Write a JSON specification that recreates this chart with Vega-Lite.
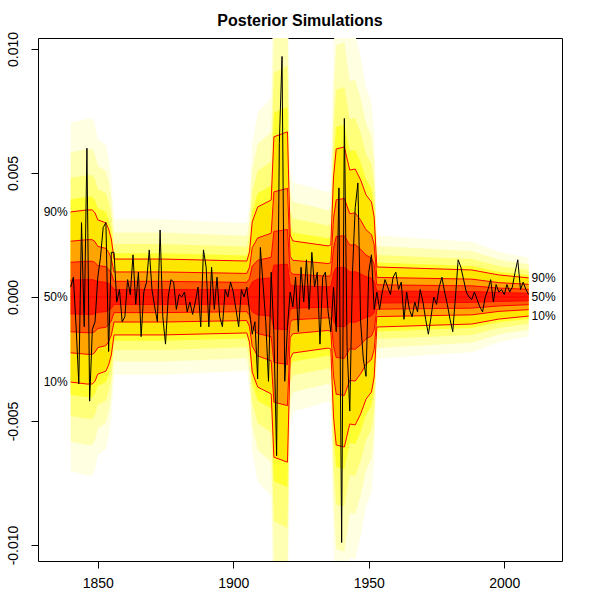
{
"$schema": "https://vega.github.io/schema/vega-lite/v6.json",
"width": 524, "height": 523,
"autosize": {"type": "none"},
"padding": {"left": 38, "top": 38, "right": 38, "bottom": 39},
"background": "white",
"title": {"text": "Posterior Simulations", "font": "Liberation Sans", "fontSize": 16, "fontWeight": "bold", "color": "#000", "anchor": "middle", "frame": "group", "baseline": "alphabetic", "offset": -11},
"config": {
  "view": {"stroke": "#000", "strokeWidth": 1},
  "axis": {"domain": false, "grid": false, "tickColor": "#000", "tickSize": 7, "tickWidth": 1, "labelColor": "#000", "labelFont": "Liberation Sans", "labelFontSize": 14}
},
"datasets": {
"fan": [
{"year":1840,"m":0,"u60":0.00068,"u70":0.0014,"u80":0.00225,"u90":0.00343,"o1":0.00394,"o2":0.0048,"o3":0.00583,"o4":0.00703,"l60":-0.00068,"l70":-0.0014,"l80":-0.00225,"l90":-0.00343,"k1":-0.00394,"k2":-0.0048,"k3":-0.00583,"k4":-0.00703},
{"year":1846,"m":0,"u60":0.0007,"u70":0.00144,"u80":0.00231,"u90":0.00351,"o1":0.00404,"o2":0.00491,"o3":0.00597,"o4":0.0072,"l60":-0.0007,"l70":-0.00144,"l80":-0.00231,"l90":-0.00351,"k1":-0.00404,"k2":-0.00491,"k3":-0.00597,"k4":-0.0072},
{"year":1848,"m":0,"u60":0.0007,"u70":0.00144,"u80":0.00231,"u90":0.00351,"o1":0.00404,"o2":0.00491,"o3":0.00597,"o4":0.0072,"l60":-0.0007,"l70":-0.00144,"l80":-0.00231,"l90":-0.00351,"k1":-0.00404,"k2":-0.00491,"k3":-0.00597,"k4":-0.0072},
{"year":1849,"m":0,"u60":0.00067,"u70":0.00139,"u80":0.00223,"u90":0.00339,"o1":0.0039,"o2":0.00475,"o3":0.00576,"o4":0.00695,"l60":-0.00067,"l70":-0.00139,"l80":-0.00223,"l90":-0.00339,"k1":-0.0039,"k2":-0.00475,"k3":-0.00576,"k4":-0.00695},
{"year":1850,"m":0,"u60":0.00062,"u70":0.00127,"u80":0.00204,"u90":0.00311,"o1":0.00358,"o2":0.00435,"o3":0.00529,"o4":0.00638,"l60":-0.00062,"l70":-0.00127,"l80":-0.00204,"l90":-0.00311,"k1":-0.00358,"k2":-0.00435,"k3":-0.00529,"k4":-0.00638},
{"year":1853,"m":0,"u60":0.00059,"u70":0.00122,"u80":0.00196,"u90":0.00299,"o1":0.00344,"o2":0.00419,"o3":0.00508,"o4":0.00613,"l60":-0.00059,"l70":-0.00122,"l80":-0.00196,"l90":-0.00299,"k1":-0.00344,"k2":-0.00419,"k3":-0.00508,"k4":-0.00613},
{"year":1854,"m":0,"u60":0.00054,"u70":0.00112,"u80":0.0018,"u90":0.00274,"o1":0.00315,"o2":0.00384,"o3":0.00466,"o4":0.00562,"l60":-0.00054,"l70":-0.00112,"l80":-0.0018,"l90":-0.00274,"k1":-0.00315,"k2":-0.00384,"k3":-0.00466,"k4":-0.00562},
{"year":1855,"m":0,"u60":0.00046,"u70":0.00096,"u80":0.00154,"u90":0.00234,"o1":0.00269,"o2":0.00328,"o3":0.00398,"o4":0.0048,"l60":-0.00046,"l70":-0.00096,"l80":-0.00154,"l90":-0.00234,"k1":-0.00269,"k2":-0.00328,"k3":-0.00398,"k4":-0.0048},
{"year":1856,"m":0,"u60":0.0003,"u70":0.00063,"u80":0.00101,"u90":0.00153,"o1":0.00176,"o2":0.00214,"o3":0.0026,"o4":0.00314,"l60":-0.0003,"l70":-0.00063,"l80":-0.00101,"l90":-0.00153,"k1":-0.00176,"k2":-0.00214,"k3":-0.0026,"k4":-0.00314},
{"year":1874,"m":0,"u60":0.0003,"u70":0.00063,"u80":0.00101,"u90":0.00153,"o1":0.00176,"o2":0.00214,"o3":0.0026,"o4":0.00314,"l60":-0.0003,"l70":-0.00063,"l80":-0.00101,"l90":-0.00153,"k1":-0.00176,"k2":-0.00214,"k3":-0.0026,"k4":-0.00314},
{"year":1905,"m":0,"u60":0.00029,"u70":0.00059,"u80":0.00095,"u90":0.00145,"o1":0.00167,"o2":0.00203,"o3":0.00247,"o4":0.00297,"l60":-0.00029,"l70":-0.00059,"l80":-0.00095,"l90":-0.00145,"k1":-0.00167,"k2":-0.00203,"k3":-0.00247,"k4":-0.00297},
{"year":1906,"m":0,"u60":0.00036,"u70":0.00074,"u80":0.0012,"u90":0.00182,"o1":0.00209,"o2":0.00255,"o3":0.00309,"o4":0.00373,"l60":-0.00036,"l70":-0.00074,"l80":-0.0012,"l90":-0.00182,"k1":-0.00209,"k2":-0.00255,"k3":-0.00309,"k4":-0.00373},
{"year":1907,"m":0,"u60":0.0006,"u70":0.00124,"u80":0.00199,"u90":0.00303,"o1":0.00348,"o2":0.00424,"o3":0.00515,"o4":0.00621,"l60":-0.0006,"l70":-0.00124,"l80":-0.00199,"l90":-0.00303,"k1":-0.00348,"k2":-0.00424,"k3":-0.00515,"k4":-0.00621},
{"year":1909,"m":0,"u60":0.00072,"u70":0.00148,"u80":0.00238,"u90":0.00363,"o1":0.00417,"o2":0.00508,"o3":0.00617,"o4":0.00744,"l60":-0.00072,"l70":-0.00148,"l80":-0.00238,"l90":-0.00363,"k1":-0.00417,"k2":-0.00508,"k3":-0.00617,"k4":-0.00744},
{"year":1914,"m":0,"u60":0.00077,"u70":0.0016,"u80":0.00257,"u90":0.00391,"o1":0.0045,"o2":0.00547,"o3":0.00665,"o4":0.00802,"l60":-0.00077,"l70":-0.0016,"l80":-0.00257,"l90":-0.00391,"k1":-0.0045,"k2":-0.00547,"k3":-0.00665,"k4":-0.00802},
{"year":1915,"m":0,"u60":0.00128,"u70":0.00264,"u80":0.00424,"u90":0.00646,"o1":0.00743,"o2":0.00904,"o3":0.01098,"o4":0.01324,"l60":-0.00128,"l70":-0.00264,"l80":-0.00424,"l90":-0.00646,"k1":-0.00743,"k2":-0.00904,"k3":-0.01098,"k4":-0.01324},
{"year":1920,"m":0,"u60":0.00132,"u70":0.00272,"u80":0.00438,"u90":0.00666,"o1":0.00766,"o2":0.00932,"o3":0.01132,"o4":0.01365,"l60":-0.00132,"l70":-0.00272,"l80":-0.00438,"l90":-0.00666,"k1":-0.00766,"k2":-0.00932,"k3":-0.01132,"k4":-0.01365},
{"year":1921,"m":0,"u60":0.0005,"u70":0.00102,"u80":0.00164,"u90":0.0025,"o1":0.00288,"o2":0.0035,"o3":0.00425,"o4":0.00513,"l60":-0.0005,"l70":-0.00102,"l80":-0.00164,"l90":-0.0025,"k1":-0.00288,"k2":-0.0035,"k3":-0.00425,"k4":-0.00513},
{"year":1922,"m":0,"u60":0.00045,"u70":0.00092,"u80":0.00148,"u90":0.00226,"o1":0.0026,"o2":0.00316,"o3":0.00384,"o4":0.00463,"l60":-0.00045,"l70":-0.00092,"l80":-0.00148,"l90":-0.00226,"k1":-0.0026,"k2":-0.00316,"k3":-0.00384,"k4":-0.00463},
{"year":1935,"m":0,"u60":0.00041,"u70":0.00084,"u80":0.00135,"u90":0.00206,"o1":0.00237,"o2":0.00288,"o3":0.0035,"o4":0.00422,"l60":-0.00041,"l70":-0.00084,"l80":-0.00135,"l90":-0.00206,"k1":-0.00237,"k2":-0.00288,"k3":-0.0035,"k4":-0.00422},
{"year":1936,"m":0,"u60":0.00042,"u70":0.00086,"u80":0.00138,"u90":0.0021,"o1":0.00241,"o2":0.00294,"o3":0.00357,"o4":0.0043,"l60":-0.00042,"l70":-0.00086,"l80":-0.00138,"l90":-0.0021,"k1":-0.00241,"k2":-0.00294,"k3":-0.00357,"k4":-0.0043},
{"year":1937,"m":0,"u60":0.00096,"u70":0.00198,"u80":0.00318,"u90":0.00484,"o1":0.00557,"o2":0.00678,"o3":0.00823,"o4":0.00992,"l60":-0.00096,"l70":-0.00198,"l80":-0.00318,"l90":-0.00484,"k1":-0.00557,"k2":-0.00678,"k3":-0.00823,"k4":-0.00992},
{"year":1938,"m":0,"u60":0.00118,"u70":0.00244,"u80":0.00392,"u90":0.00597,"o1":0.00687,"o2":0.00836,"o3":0.01015,"o4":0.01224,"l60":-0.00118,"l70":-0.00244,"l80":-0.00392,"l90":-0.00597,"k1":-0.00687,"k2":-0.00836,"k3":-0.01015,"k4":-0.01224},
{"year":1941,"m":0,"u60":0.0012,"u70":0.00247,"u80":0.00397,"u90":0.00605,"o1":0.00696,"o2":0.00847,"o3":0.01028,"o4":0.0124,"l60":-0.0012,"l70":-0.00247,"l80":-0.00397,"l90":-0.00605,"k1":-0.00696,"k2":-0.00847,"k3":-0.01028,"k4":-0.0124},
{"year":1943,"m":0,"u60":0.00101,"u70":0.00209,"u80":0.00336,"u90":0.00512,"o1":0.00589,"o2":0.00717,"o3":0.0087,"o4":0.0105,"l60":-0.00101,"l70":-0.00209,"l80":-0.00336,"l90":-0.00512,"k1":-0.00589,"k2":-0.00717,"k3":-0.0087,"k4":-0.0105},
{"year":1945,"m":0,"u60":0.00102,"u70":0.00211,"u80":0.00339,"u90":0.00516,"o1":0.00593,"o2":0.00722,"o3":0.00877,"o4":0.01058,"l60":-0.00102,"l70":-0.00211,"l80":-0.00339,"l90":-0.00516,"k1":-0.00593,"k2":-0.00722,"k3":-0.00877,"k4":-0.01058},
{"year":1947,"m":0,"u60":0.00093,"u70":0.00193,"u80":0.0031,"u90":0.00472,"o1":0.00543,"o2":0.00661,"o3":0.00802,"o4":0.00968,"l60":-0.00093,"l70":-0.00193,"l80":-0.0031,"l90":-0.00472,"k1":-0.00543,"k2":-0.00661,"k3":-0.00802,"k4":-0.00968},
{"year":1949,"m":0,"u60":0.00082,"u70":0.00169,"u80":0.00271,"u90":0.00412,"o1":0.00474,"o2":0.00577,"o3":0.007,"o4":0.00845,"l60":-0.00082,"l70":-0.00169,"l80":-0.00271,"l90":-0.00412,"k1":-0.00474,"k2":-0.00577,"k3":-0.007,"k4":-0.00845},
{"year":1951,"m":0,"u60":0.00076,"u70":0.00157,"u80":0.00252,"u90":0.00383,"o1":0.0044,"o2":0.00536,"o3":0.00651,"o4":0.00785,"l60":-0.00076,"l70":-0.00157,"l80":-0.00252,"l90":-0.00383,"k1":-0.0044,"k2":-0.00536,"k3":-0.00651,"k4":-0.00785},
{"year":1952,"m":0,"u60":0.00064,"u70":0.00132,"u80":0.00212,"u90":0.00323,"o1":0.00371,"o2":0.00452,"o3":0.00549,"o4":0.00662,"l60":-0.00064,"l70":-0.00132,"l80":-0.00212,"l90":-0.00323,"k1":-0.00371,"k2":-0.00452,"k3":-0.00549,"k4":-0.00662},
{"year":1953,"m":0,"u60":0.00024,"u70":0.00049,"u80":0.00079,"u90":0.00121,"o1":0.00139,"o2":0.00169,"o3":0.00206,"o4":0.00248,"l60":-0.00024,"l70":-0.00049,"l80":-0.00079,"l90":-0.00121,"k1":-0.00139,"k2":-0.00169,"k3":-0.00206,"k4":-0.00248},
{"year":1988,"m":0,"u60":0.00022,"u70":0.00045,"u80":0.00072,"u90":0.00109,"o1":0.00125,"o2":0.00153,"o3":0.00185,"o4":0.00223,"l60":-0.00022,"l70":-0.00045,"l80":-0.00072,"l90":-0.00109,"k1":-0.00125,"k2":-0.00153,"k3":-0.00185,"k4":-0.00223},
{"year":1998,"m":0,"u60":0.00018,"u70":0.00036,"u80":0.00058,"u90":0.00089,"o1":0.00102,"o2":0.00125,"o3":0.00151,"o4":0.00182,"l60":-0.00018,"l70":-0.00036,"l80":-0.00058,"l90":-0.00089,"k1":-0.00102,"k2":-0.00125,"k3":-0.00151,"k4":-0.00182},
{"year":2009,"m":0,"u60":0.00015,"u70":0.00031,"u80":0.00051,"u90":0.00077,"o1":0.00089,"o2":0.00108,"o3":0.00131,"o4":0.00158,"l60":-0.00015,"l70":-0.00031,"l80":-0.00051,"l90":-0.00077,"k1":-0.00089,"k2":-0.00108,"k3":-0.00131,"k4":-0.00158}
],
"series": [
{"year":1840,"v":0.0004},{"year":1841,"v":0.0008},{"year":1842,"v":-0.0012},{"year":1843,"v":-0.0035},{"year":1844,"v":0.003},{"year":1845,"v":-0.0012},{"year":1846,"v":0.006},{"year":1847,"v":-0.0042},{"year":1848,"v":-0.0013},{"year":1849,"v":-0.001},{"year":1850,"v":0.0008},{"year":1851,"v":0.0016},
{"year":1852,"v":0.0028},{"year":1853,"v":0.003},{"year":1854,"v":-0.0022},{"year":1855,"v":0.0018},{"year":1856,"v":0.0018},{"year":1857,"v":-0.0002},{"year":1858,"v":0.0003},{"year":1859,"v":-0.001},{"year":1860,"v":-0.0008},{"year":1861,"v":0.0007},{"year":1862,"v":0.0001},{"year":1863,"v":0.0017},{"year":1864,"v":-0.0003},{"year":1865,"v":0.001},{"year":1866,"v":-0.0016},{"year":1867,"v":0.0002},{"year":1868,"v":0.0006},{"year":1869,"v":0.0019},{"year":1870,"v":0.0003},{"year":1871,"v":-0.0004},{"year":1872,"v":-0.001},{"year":1873,"v":0.0027},
{"year":1874,"v":-0.0008},{"year":1875,"v":-0.0019},{"year":1876,"v":0.0},{"year":1877,"v":0.0007},{"year":1878,"v":0.0006},{"year":1879,"v":-0.0005},{"year":1880,"v":0.0001},{"year":1881,"v":0.0},{"year":1882,"v":0.0002},{"year":1883,"v":-0.0006},{"year":1884,"v":-0.0002},{"year":1885,"v":-0.0007},{"year":1886,"v":-0.0002},
{"year":1887,"v":0.0004},{"year":1888,"v":-0.0012},{"year":1889,"v":0.0019},{"year":1890,"v":0.0012},{"year":1891,"v":-0.0012},{"year":1892,"v":0.0012},{"year":1893,"v":-0.0005},{"year":1894,"v":0.0008},{"year":1895,"v":-0.0008},{"year":1896,"v":-0.0012},{"year":1897,"v":0.0003},{"year":1898,"v":0.0},{"year":1899,"v":0.0006},{"year":1900,"v":0.0002},{"year":1901,"v":-0.0005},{"year":1902,"v":-0.0012},{"year":1903,"v":0.0003},{"year":1904,"v":0.0},
{"year":1905,"v":0.0004},{"year":1906,"v":-0.0006},{"year":1907,"v":-0.0015},{"year":1908,"v":-0.001},{"year":1909,"v":-0.0033},{"year":1910,"v":0.002},{"year":1911,"v":0.0005},{"year":1912,"v":-0.001},{"year":1913,"v":-0.0034},{"year":1914,"v":0.001},{"year":1915,"v":-0.0015},{"year":1916,"v":-0.0064},{"year":1917,"v":0.0062},{"year":1918,"v":0.0097},{"year":1919,"v":-0.0034},{"year":1920,"v":-0.0012},
{"year":1921,"v":0.0002},{"year":1922,"v":-0.0004},{"year":1923,"v":0.0008},{"year":1924,"v":-0.0014},{"year":1925,"v":0.0012},{"year":1926,"v":-0.0002},{"year":1927,"v":0.0015},{"year":1928,"v":-0.0005},{"year":1929,"v":0.0018},{"year":1930,"v":0.0004},{"year":1931,"v":0.001},{"year":1932,"v":-0.0019},{"year":1933,"v":0.0008},{"year":1934,"v":0.001},{"year":1935,"v":-0.0006},{"year":1936,"v":-0.0014},{"year":1937,"v":0.0004},
{"year":1938,"v":-0.0014},{"year":1939,"v":0.0044},{"year":1940,"v":-0.0099},{"year":1941,"v":0.0072},{"year":1942,"v":-0.002},{"year":1943,"v":-0.0046},{"year":1944,"v":0.001},{"year":1945,"v":0.0036},{"year":1946,"v":0.0046},{"year":1947,"v":-0.001},{"year":1948,"v":-0.0025},{"year":1949,"v":-0.0032},{"year":1950,"v":0.001},{"year":1951,"v":0.0017},
{"year":1952,"v":-0.0005},{"year":1953,"v":0.0002},{"year":1954,"v":-0.0005},{"year":1955,"v":0.0002},{"year":1956,"v":0.0007},{"year":1957,"v":0.0004},{"year":1958,"v":0.0001},{"year":1959,"v":0.0008},{"year":1960,"v":0.001},{"year":1961,"v":0.0003},{"year":1962,"v":0.0006},{"year":1963,"v":-0.0009},{"year":1964,"v":0.0002},{"year":1965,"v":-0.0005},{"year":1966,"v":-0.0008},{"year":1967,"v":-0.0002},{"year":1968,"v":-0.0006},{"year":1969,"v":0.0003},{"year":1970,"v":-0.0002},{"year":1971,"v":-0.0009},{"year":1972,"v":-0.0015},{"year":1973,"v":-0.0008},{"year":1974,"v":0.0},{"year":1975,"v":-0.0003},{"year":1976,"v":0.0004},{"year":1977,"v":0.0008},{"year":1978,"v":0.0002},{"year":1979,"v":-0.0003},{"year":1980,"v":-0.0009},{"year":1981,"v":-0.0014},{"year":1982,"v":0.0},
{"year":1983,"v":0.0015},{"year":1984,"v":0.0012},{"year":1985,"v":0.0007},{"year":1986,"v":0.0002},{"year":1987,"v":0.0},{"year":1988,"v":-0.0001},{"year":1989,"v":0.0002},{"year":1990,"v":-0.0001},{"year":1991,"v":-0.0004},{"year":1992,"v":-0.0006},{"year":1993,"v":0.0},{"year":1994,"v":0.0003},{"year":1995,"v":0.0007},{"year":1996,"v":-0.0002},{"year":1997,"v":0.0005},{"year":1998,"v":0.0002},{"year":1999,"v":0.0003},{"year":2000,"v":0.0001},{"year":2001,"v":0.0005},{"year":2002,"v":0.0002},{"year":2003,"v":0.0004},{"year":2004,"v":0.001},{"year":2005,"v":0.0015},{"year":2006,"v":0.0003},{"year":2007,"v":0.0006},{"year":2008,"v":0.0003},{"year":2009,"v":0.0001}
],
"labelsL": [{"year":1840,"v":0.00343,"t":"90%"},{"year":1840,"v":0,"t":"50%"},{"year":1840,"v":-0.00343,"t":"10%"}],
"labelsR": [{"year":2009,"v":0.00077,"t":"90%"},{"year":2009,"v":0,"t":"50%"},{"year":2009,"v":-0.00077,"t":"10%"}]
},
"encoding": {
  "x": {"field": "year", "type": "quantitative", "scale": {"domain": [1827.94, 2021.32], "nice": false, "zero": false},
        "axis": {"values": [1850, 1900, 1950, 2000], "format": "d", "title": null, "labelPadding": 8, "labelFlush": false, "labelOverlap": false}}
},
"layer": [
  {"data": {"name": "fan"}, "mark": {"type": "area", "color": "#FFFFE2", "clip": true},
   "encoding": {"y": {"field": "k4", "type": "quantitative", "scale": {"domain": [-0.010646, 0.010444], "nice": false, "zero": false},
      "axis": {"values": [-0.01, -0.005, 0, 0.005, 0.01], "title": null, "labelAngle": 270, "labelAlign": "center", "labelBaseline": "bottom", "labelPadding": 11, "labelExpr": "replace(format(datum.value, '.3f'), '−', '-')", "labelFlush": false, "labelOverlap": false}},
    "y2": {"field": "o4"}}},
  {"data": {"name": "fan"}, "mark": {"type": "area", "color": "#FFFFB4", "clip": true},
   "encoding": {"y": {"field": "k3", "type": "quantitative", "scale": {"domain": [-0.010646, 0.010444], "nice": false, "zero": false},
      "axis": {"values": [-0.01, -0.005, 0, 0.005, 0.01], "title": null, "labelAngle": 270, "labelAlign": "center", "labelBaseline": "bottom", "labelPadding": 11, "labelExpr": "replace(format(datum.value, '.3f'), '−', '-')", "labelFlush": false, "labelOverlap": false}}, "y2": {"field": "o3"}}},
  {"data": {"name": "fan"}, "mark": {"type": "area", "color": "#FFFF7A", "clip": true},
   "encoding": {"y": {"field": "k2", "type": "quantitative", "scale": {"domain": [-0.010646, 0.010444], "nice": false, "zero": false},
      "axis": {"values": [-0.01, -0.005, 0, 0.005, 0.01], "title": null, "labelAngle": 270, "labelAlign": "center", "labelBaseline": "bottom", "labelPadding": 11, "labelExpr": "replace(format(datum.value, '.3f'), '−', '-')", "labelFlush": false, "labelOverlap": false}}, "y2": {"field": "o2"}}},
  {"data": {"name": "fan"}, "mark": {"type": "area", "color": "#FFFF30", "clip": true},
   "encoding": {"y": {"field": "k1", "type": "quantitative", "scale": {"domain": [-0.010646, 0.010444], "nice": false, "zero": false},
      "axis": {"values": [-0.01, -0.005, 0, 0.005, 0.01], "title": null, "labelAngle": 270, "labelAlign": "center", "labelBaseline": "bottom", "labelPadding": 11, "labelExpr": "replace(format(datum.value, '.3f'), '−', '-')", "labelFlush": false, "labelOverlap": false}}, "y2": {"field": "o1"}}},
  {"data": {"name": "fan"}, "mark": {"type": "area", "color": "#FFE600", "clip": true},
   "encoding": {"y": {"field": "l90", "type": "quantitative", "scale": {"domain": [-0.010646, 0.010444], "nice": false, "zero": false},
      "axis": {"values": [-0.01, -0.005, 0, 0.005, 0.01], "title": null, "labelAngle": 270, "labelAlign": "center", "labelBaseline": "bottom", "labelPadding": 11, "labelExpr": "replace(format(datum.value, '.3f'), '−', '-')", "labelFlush": false, "labelOverlap": false}}, "y2": {"field": "u90"}}},
  {"data": {"name": "fan"}, "mark": {"type": "area", "color": "#FFA400", "clip": true},
   "encoding": {"y": {"field": "l80", "type": "quantitative", "scale": {"domain": [-0.010646, 0.010444], "nice": false, "zero": false},
      "axis": {"values": [-0.01, -0.005, 0, 0.005, 0.01], "title": null, "labelAngle": 270, "labelAlign": "center", "labelBaseline": "bottom", "labelPadding": 11, "labelExpr": "replace(format(datum.value, '.3f'), '−', '-')", "labelFlush": false, "labelOverlap": false}}, "y2": {"field": "u80"}}},
  {"data": {"name": "fan"}, "mark": {"type": "area", "color": "#FF5A00", "clip": true},
   "encoding": {"y": {"field": "l70", "type": "quantitative", "scale": {"domain": [-0.010646, 0.010444], "nice": false, "zero": false},
      "axis": {"values": [-0.01, -0.005, 0, 0.005, 0.01], "title": null, "labelAngle": 270, "labelAlign": "center", "labelBaseline": "bottom", "labelPadding": 11, "labelExpr": "replace(format(datum.value, '.3f'), '−', '-')", "labelFlush": false, "labelOverlap": false}}, "y2": {"field": "u70"}}},
  {"data": {"name": "fan"}, "mark": {"type": "area", "color": "#FF1A00", "clip": true},
   "encoding": {"y": {"field": "l60", "type": "quantitative", "scale": {"domain": [-0.010646, 0.010444], "nice": false, "zero": false},
      "axis": {"values": [-0.01, -0.005, 0, 0.005, 0.01], "title": null, "labelAngle": 270, "labelAlign": "center", "labelBaseline": "bottom", "labelPadding": 11, "labelExpr": "replace(format(datum.value, '.3f'), '−', '-')", "labelFlush": false, "labelOverlap": false}}, "y2": {"field": "u60"}}},
  {"data": {"name": "fan"},
   "transform": [{"fold": ["u90", "u80", "u70", "u60", "m", "l60", "l70", "l80", "l90"], "as": ["q", "qv"]}],
   "mark": {"type": "line", "color": "#FF0000", "strokeWidth": 1, "clip": true},
   "encoding": {"y": {"field": "qv", "type": "quantitative", "scale": {"domain": [-0.010646, 0.010444], "nice": false, "zero": false},
      "axis": {"values": [-0.01, -0.005, 0, 0.005, 0.01], "title": null, "labelAngle": 270, "labelAlign": "center", "labelBaseline": "bottom", "labelPadding": 11, "labelExpr": "replace(format(datum.value, '.3f'), '−', '-')", "labelFlush": false, "labelOverlap": false}}, "detail": {"field": "q", "type": "nominal"}}},
  {"data": {"name": "series"}, "mark": {"type": "line", "color": "#000000", "strokeWidth": 1, "clip": true},
   "encoding": {"y": {"field": "v", "type": "quantitative", "scale": {"domain": [-0.010646, 0.010444], "nice": false, "zero": false},
      "axis": {"values": [-0.01, -0.005, 0, 0.005, 0.01], "title": null, "labelAngle": 270, "labelAlign": "center", "labelBaseline": "bottom", "labelPadding": 11, "labelExpr": "replace(format(datum.value, '.3f'), '−', '-')", "labelFlush": false, "labelOverlap": false}}}},
  {"data": {"name": "labelsL"}, "mark": {"type": "text", "align": "right", "baseline": "middle", "dx": -3, "font": "Liberation Sans", "fontSize": 12, "color": "#000"},
   "encoding": {"y": {"field": "v", "type": "quantitative", "scale": {"domain": [-0.010646, 0.010444], "nice": false, "zero": false},
      "axis": {"values": [-0.01, -0.005, 0, 0.005, 0.01], "title": null, "labelAngle": 270, "labelAlign": "center", "labelBaseline": "bottom", "labelPadding": 11, "labelExpr": "replace(format(datum.value, '.3f'), '−', '-')", "labelFlush": false, "labelOverlap": false}}, "text": {"field": "t"}}},
  {"data": {"name": "labelsR"}, "mark": {"type": "text", "align": "left", "baseline": "middle", "dx": 3, "font": "Liberation Sans", "fontSize": 12, "color": "#000"},
   "encoding": {"y": {"field": "v", "type": "quantitative", "scale": {"domain": [-0.010646, 0.010444], "nice": false, "zero": false},
      "axis": {"values": [-0.01, -0.005, 0, 0.005, 0.01], "title": null, "labelAngle": 270, "labelAlign": "center", "labelBaseline": "bottom", "labelPadding": 11, "labelExpr": "replace(format(datum.value, '.3f'), '−', '-')", "labelFlush": false, "labelOverlap": false}}, "text": {"field": "t"}}}
]
}
